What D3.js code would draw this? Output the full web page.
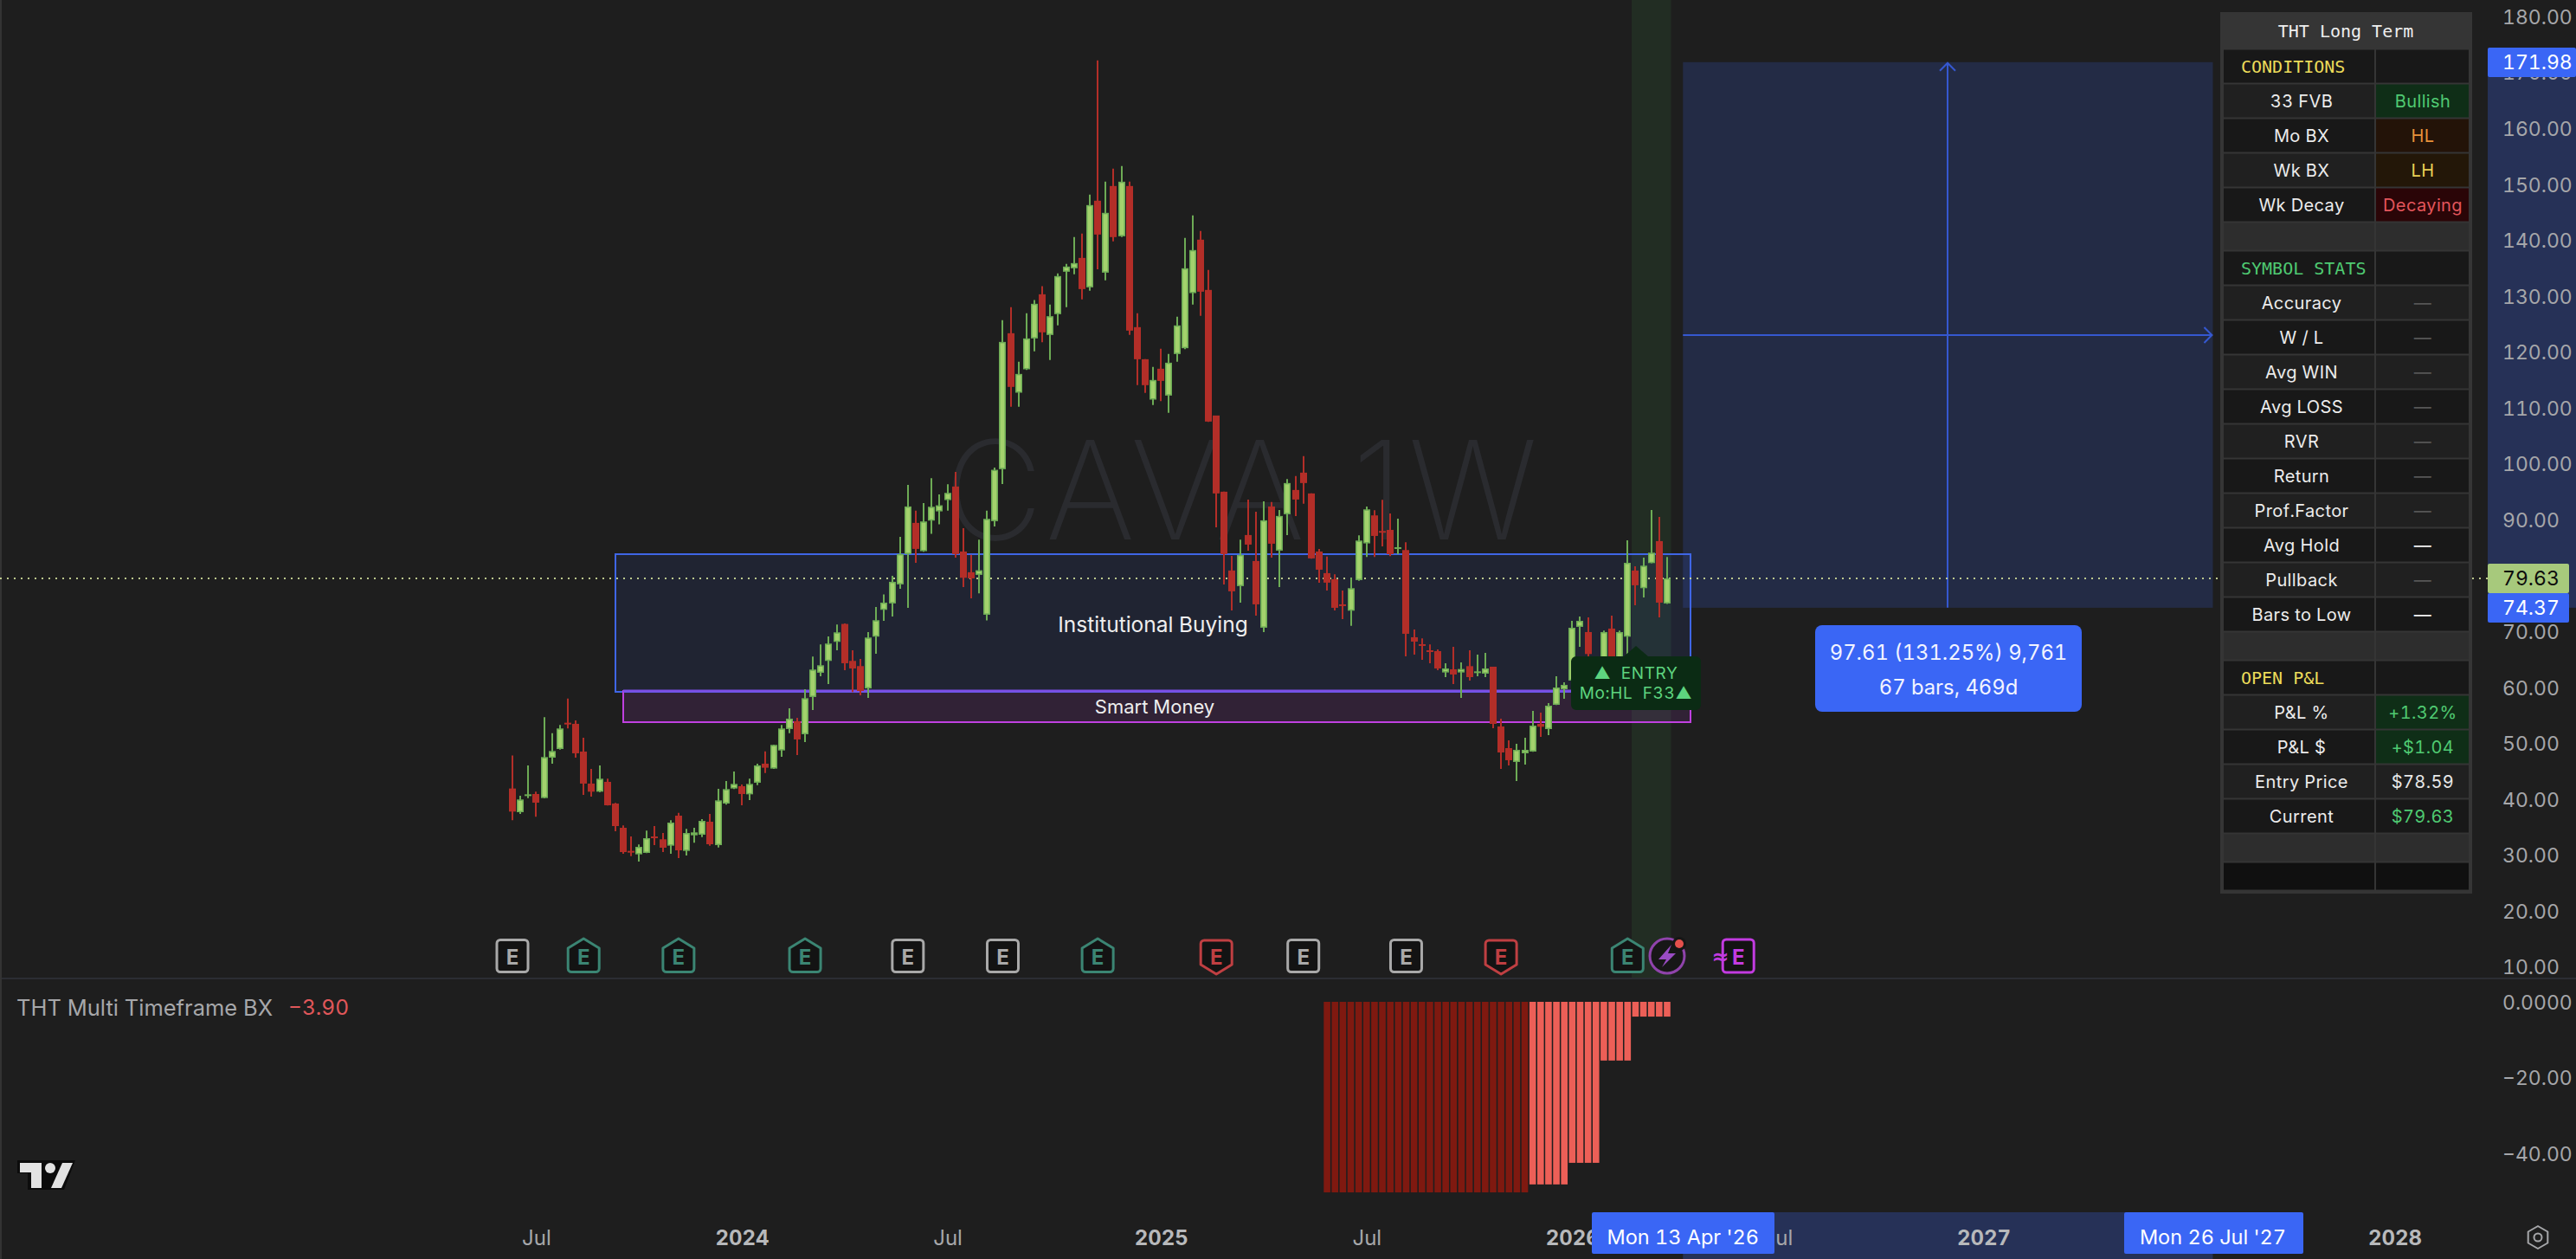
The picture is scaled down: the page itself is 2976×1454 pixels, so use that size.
<!DOCTYPE html>
<html><head><meta charset="utf-8">
<script src="https://cdn.jsdelivr.net/npm/d3@7/dist/d3.min.js"></script>
<style>html,body{margin:0;padding:0;background:#1e1e1e;overflow:hidden}svg{display:block}text{font-family:Inter,"Noto Sans",sans-serif;font-variant-numeric:tabular-nums;white-space:pre}.mono{font-family:"DejaVu Sans Mono",monospace}</style>
</head><body><svg id="c" width="2976" height="1454"></svg>
<script>
const firstBar = Date.UTC(2023,5,12);
const opens = [42.03,37.79,40.68,41.05,40.32,47.55,49.10,53.80,53.60,48.64,42.91,41.46,43.22,39.34,35.00,30.87,30.25,30.51,33.45,32.94,31.80,37.17,30.87,33.66,33.76,36.09,31.90,39.34,42.03,42.44,40.99,43.06,46.47,45.59,48.84,52.67,54.06,51.74,58.40,62.74,64.86,68.27,71.47,64.86,63.93,59.95,69.20,74.00,75.14,78.55,83.97,89.55,
84.49,89.96,91.61,93.63,96.06,84.43,80.72,80.25,73.12,89.86,99.16,123.48,112.84,117.03,122.55,130.45,123.17,126.89,134.48,135.10,136.96,131.69,147.19,134.32,149.82,140.83,149.82,124.57,118.83,111.60,117.13,112.33,119.76,120.80,130.66,140.22,131.23,108.76,95.13,81.03,78.24,87.38,82.73,70.80,92.49,84.59,91.10,95.44,98.54,94.82,84.43,80.56,79.48,74.98,
73.84,79.32,85.88,90.89,88.10,88.30,84.89,84.69,69.09,67.85,66.76,66.61,62.79,63.36,62.79,63.92,62.79,62.58,63.82,53.13,49.26,46.78,48.33,48.64,53.59,52.66,57.00,59.79,61.34,70.95,70.02,62.27,63.82,70.64,63.82,69.19,81.02,77.87,82.36,86.29,75.13];
const highs = [47.92,40.74,46.16,41.46,54.78,51.94,53.39,58.14,54.22,51.12,45.54,46.16,43.78,39.44,35.42,33.45,32.01,34.49,35.31,34.07,36.35,37.69,34.80,35.00,36.55,37.48,41.98,43.37,45.07,42.75,43.78,46.47,48.69,49.88,53.39,56.39,54.68,59.79,65.63,67.80,69.25,71.36,71.57,66.77,65.22,70.02,74.50,76.74,80.09,87.07,96.36,91.72,
93.11,97.55,94.66,96.47,98.69,88.62,83.82,86.55,91.72,99.46,125.81,128.13,118.37,127.05,129.42,131.90,128.60,134.17,135.88,140.68,141.30,148.27,172.29,150.59,152.92,153.38,150.59,127.05,118.83,117.44,120.69,119.76,126.43,140.53,144.56,141.77,134.79,108.76,95.13,83.66,86.55,93.73,91.56,93.42,93.27,91.87,97.40,97.92,101.48,94.82,84.90,83.51,80.35,77.46,
79.73,87.32,92.49,91.81,93.67,91.25,90.32,86.08,70.48,68.88,67.80,66.92,64.44,67.38,64.60,66.76,65.99,66.30,63.82,54.52,50.65,50.03,51.11,55.92,55.61,57.31,62.12,61.03,72.03,72.81,72.65,65.11,70.28,72.96,70.28,86.44,81.79,83.34,91.87,90.63,83.45];
const lows = [36.35,37.48,40.32,36.97,40.27,46.47,49.00,52.77,47.55,40.89,40.58,41.36,38.98,34.38,30.35,29.94,28.96,30.46,31.90,30.66,30.35,29.58,30.04,32.32,33.35,31.80,31.49,39.13,41.92,39.03,39.96,42.65,44.82,45.54,47.71,51.94,48.02,50.34,56.08,62.12,60.72,66.77,63.20,59.28,58.71,58.25,66.15,72.04,72.81,77.77,74.36,82.42,
84.38,87.59,89.29,91.72,83.35,78.08,76.07,76.95,72.09,88.93,96.52,110.31,110.31,116.92,120.23,121.88,118.68,124.88,128.13,134.02,129.53,131.07,134.94,132.93,139.90,140.68,123.17,114.19,112.79,110.62,111.34,109.23,118.37,120.64,128.60,126.58,107.63,88.77,78.55,73.90,75.29,84.59,72.97,70.02,83.35,78.08,87.38,90.79,92.96,83.15,78.86,77.46,73.90,72.35,
71.15,79.21,83.45,83.45,85.36,83.60,83.96,65.68,65.99,65.06,64.44,63.20,61.96,60.72,58.24,61.34,62.12,61.96,52.82,45.54,46.16,43.37,46.31,48.59,51.27,51.58,56.95,58.09,61.24,67.38,65.37,61.24,62.79,63.30,62.79,65.89,74.82,76.22,82.31,72.65,75.03];
const closes = [37.90,40.07,40.99,39.50,47.66,48.74,52.77,53.49,48.33,42.91,41.46,43.78,39.03,35.31,30.66,30.66,31.59,33.14,33.25,31.44,35.93,30.97,34.07,34.18,36.24,32.06,39.91,41.92,42.85,41.05,42.85,46.16,45.75,49.83,52.77,54.53,50.81,58.19,63.31,64.08,67.96,69.97,64.44,63.51,59.48,69.04,72.14,75.29,79.01,83.97,92.49,84.90,
89.81,92.44,92.70,94.92,83.97,79.73,79.63,81.08,90.27,99.05,121.93,113.88,116.20,122.55,128.75,123.64,126.53,133.71,135.41,136.03,131.38,146.41,141.14,145.02,140.68,150.59,123.95,118.83,114.19,115.12,114.96,118.21,124.88,135.10,138.36,130.92,107.68,94.82,83.97,77.31,83.82,85.67,74.98,90.01,85.83,90.79,96.68,93.73,96.68,83.20,81.18,78.86,74.36,74.67,
77.87,86.39,91.97,87.22,87.89,83.96,85.20,69.71,68.31,67.64,66.56,63.51,63.51,62.43,63.41,61.96,62.99,63.51,53.59,48.48,47.09,48.95,48.95,53.28,53.08,56.85,60.10,60.57,70.79,72.03,66.09,64.34,70.02,64.08,70.02,82.41,78.39,81.90,84.22,75.29,79.63];
const priceTicks = [180,170,160,150,140,130,120,110,100,90,80,70,60,50,40,30,20,10];
const bxStart = 103;
const bxValues = [-50.3,-50.3,-50.3,-50.3,-50.3,-50.3,-50.3,-50.3,-50.3,-50.3,-50.3,-50.3,-50.3,-50.3,-50.3,-50.3,-50.3,-50.3,-50.3,-50.3,-50.3,-50.3,-50.3,-50.3,-50.3,-50.3,-48.2,-48.2,-48.2,-48.2,-48.2,-42.5,-42.5,-42.5,-42.5,-15.5,-15.5,-15.5,-15.5,-3.9,-3.9,-3.9,-3.9,-3.9];
const bxTicks = [0,-20,-40];
const timeTickBars = [3,29,55,82,108,134,160,186,212,238];
const timeTickLabels = ["Jul","2024","Jul","2025","Jul","2026","Jul","2027","Jul","2028"];
const earnBars = [0,9,21,37,50,62,74,89,100,113,125,141,155];
const earnKinds = ["gray","up","up","up","gray","gray","up","down","gray","gray","down","up","wave"];
const lastPrice = 79.63, targetPrice = 171.98, stopPrice = 74.37;
const zoneInst = [13,149,83.97,59.33], zoneSmart = [14,149,59.49,53.91];
const projectBars = [148,215];
const bandBars = [142,146];
const rowLabels = ["CONDITIONS","33 FVB","Mo BX","Wk BX","Wk Decay","","SYMBOL STATS","Accuracy","W / L","Avg WIN","Avg LOSS","RVR","Return","Prof.Factor","Avg Hold","Pullback","Bars to Low","","OPEN P&L","P&L %","P&L $","Entry Price","Current","",""];
const rowValues = ["","Bullish","HL","LH","Decaying","","","—","—","—","—","—","—","—","—","—","—","","","+1.32%","+$1.04","$78.59","$79.63","",""];
const rowKinds = ["sec","bull","hl","lh","dec","gap","sec2","mut","mut","mut","mut","mut","mut","mut","wht","mut","wht","gap","sec","pos","pos","plain","cur","gap","end"];

const bars = opens.map((o,i)=>({i,o,h:highs[i],l:lows[i],c:closes[i]}));
const WEEK = 7*864e5;
const barDate = i => new Date(firstBar + i*WEEK);
const x = d3.scaleUtc().domain([barDate(0),barDate(146)]).range([592,1926]);
const xb = i => x(barDate(i));
const y = d3.scaleLinear().domain([180,10]).range([20,1117.4]);
const yb = d3.scaleLinear().domain([0,-40]).range([1157,1332]);
const svg = d3.select("#c");
const MID = "#a6a7aa";
const R = Math.round;
svg.append("rect").attr("width",2976).attr("height",1454).attr("fill","#1e1e1e");
svg.append("rect").attr("width",2).attr("height",1454).attr("fill","#333");

// watermark
svg.append("text").attr("x",1436).attr("y",623).attr("text-anchor","middle").attr("font-size",158).attr("font-weight",250).attr("letter-spacing",5).style("font-variant-numeric","normal").attr("fill","#2a2b2f").text("CAVA 1W");

// band
svg.append("rect").attr("x",xb(bandBars[0])-4.5).attr("y",0).attr("width",xb(bandBars[1])-xb(bandBars[0])+9).attr("height",1129).attr("fill","#4caf50").attr("opacity",.11);

// price-axis highlight + project
const pL=xb(projectBars[0]),pR=xb(projectBars[1]),pT=y(targetPrice),pB=y(stopPrice),blue="#3a66f5";
svg.append("rect").attr("x",2874).attr("y",pT).attr("width",102).attr("height",pB-pT).attr("fill","#263157");
svg.append("rect").attr("x",pL).attr("y",1400).attr("width",pR-pL).attr("height",54).attr("fill","#263157");
svg.append("rect").attr("x",pL).attr("y",pT).attr("width",pR-pL).attr("height",pB-pT).attr("fill","#3c64f0").attr("opacity",.19);

// zones
function zone(z,stroke,fill,op){
  svg.append("rect").attr("x",R(xb(z[0]))).attr("y",R(y(z[2]))).attr("width",R(xb(z[1]))-R(xb(z[0]))).attr("height",R(y(z[3]))-R(y(z[2]))).attr("fill",fill).attr("fill-opacity",op).attr("stroke",stroke).attr("stroke-width",2);
}
zone(zoneInst,"#3f66e6","#3c64f0",.1);
zone(zoneSmart,"#c040e0","#b43cd8",.13);
svg.append("line").attr("x1",R(xb(zoneSmart[0]))).attr("x2",R(xb(zoneInst[1]))).attr("y1",R(y(zoneSmart[2]))).attr("y2",R(y(zoneSmart[2]))).attr("stroke","#7d4fe6").attr("stroke-width",3);

// project arrows
const cx=R((pL+pR)/2),cy=R((pT+pB)/2),arrow="#3558d0";
svg.append("path").attr("fill","none").attr("stroke",arrow).attr("stroke-width",2).attr("d",`M${cx},${pB}V${pT+1}M${cx-9},${pT+10}L${cx},${pT+1}L${cx+9},${pT+10}`);
svg.append("path").attr("fill","none").attr("stroke",arrow).attr("stroke-width",2).attr("d",`M${pL},${cy}H${pR-1}M${pR-10},${cy-9}L${pR-1},${cy}L${pR-10},${cy+9}`);

// last-price line
svg.append("line").attr("x1",0).attr("x2",2874).attr("y1",R(y(lastPrice))).attr("y2",R(y(lastPrice))).attr("stroke","#cfdc98").attr("stroke-width",2).attr("stroke-dasharray","2 6").attr("opacity",.9);

// candles
const gc=svg.append("g").selectAll("g").data(bars).join("g").attr("transform",d=>`translate(${R(xb(d.i))},0)`);
const up=d=>d.c>=d.o;
gc.append("line").attr("y1",d=>y(d.h)).attr("y2",d=>y(d.l)).attr("stroke",d=>up(d)?"#6dab55":"#b32e28").attr("stroke-width",2);
gc.append("rect").attr("x",-3.25).attr("width",6.5)
  .attr("y",d=>y(Math.max(d.o,d.c))+.75).attr("height",d=>Math.max(.5,Math.abs(y(d.o)-y(d.c))-1.5))
  .attr("fill",d=>up(d)?"#a3d26d":"#b32e28").attr("stroke",d=>up(d)?"#6dab55":"#b32e28").attr("stroke-width",1.5);

// zone text
svg.append("text").attr("x",1332).attr("y",721).attr("text-anchor","middle").attr("dominant-baseline","central").attr("font-size",24.5).attr("fill","#eeeeee").text("Institutional Buying");
svg.append("text").attr("x",1334).attr("y",816).attr("text-anchor","middle").attr("dominant-baseline","central").attr("font-size",22).attr("fill","#eeeeee").text("Smart Money");

// entry tooltip
const tipX=1890;
svg.append("path").attr("fill","#0b2b14").attr("d",`M1821,758H${tipX-14}L${tipX},746L${tipX+14},758H1959a6,6 0 0 1 6,6V814a6,6 0 0 1 -6,6H1821a6,6 0 0 1 -6,-6V764a6,6 0 0 1 6,-6Z`);
svg.append("text").attr("x",tipX).attr("y",777).attr("text-anchor","middle").attr("dominant-baseline","central").attr("font-size",19).attr("letter-spacing",.6).attr("fill","#5ed47f").text("▲  ENTRY");
svg.append("text").attr("x",tipX).attr("y",800).attr("text-anchor","middle").attr("dominant-baseline","central").attr("font-size",19).attr("letter-spacing",.6).attr("fill","#5ed47f").text("Mo:HL  F33▲");

// measure label
svg.append("rect").attr("x",2097).attr("y",722).attr("width",308).attr("height",100).attr("rx",8).attr("fill",blue);
svg.append("text").attr("x",2251).attr("y",753).attr("text-anchor","middle").attr("dominant-baseline","central").attr("font-size",23.8).attr("fill","#f2f4ff").text("97.61 (131.25%) 9,761");
svg.append("text").attr("x",2251).attr("y",793).attr("text-anchor","middle").attr("dominant-baseline","central").attr("font-size",23.8).attr("fill","#f2f4ff").text("67 bars, 469d");

// pane separator
svg.append("rect").attr("x",2).attr("y",1129).attr("width",2974).attr("height",2).attr("fill","#2b2d33");

// earnings badges
const badges=svg.append("g").selectAll("g").data(earnBars.map((b,i)=>({b,k:earnKinds[i]}))).join("g").attr("transform",d=>`translate(${xb(d.b)},1104)`);
const bCol={gray:"#a9a9a9",up:"#3b8573",down:"#bf3f42",wave:"#c23be0"};
const bPath={
 gray:"M-14,-18.5H14a4,4 0 0 1 4,4V14.5a4,4 0 0 1 -4,4H-14a4,4 0 0 1 -4,-4V-14.5a4,4 0 0 1 4,-4Z",
 up:"M0,-20L18,-9V14.5a4,4 0 0 1 -4,4H-14a4,4 0 0 1 -4,-4V-9Z",
 down:"M-14,-18H14a4,4 0 0 1 4,4V10L0,21L-18,10V-14a4,4 0 0 1 4,-4Z",
 wave:"M-14,-19H14a4,4 0 0 1 4,4V15a4,4 0 0 1 -4,4H-14a4,4 0 0 1 -4,-4V-15a4,4 0 0 1 4,-4Z"};
badges.append("path").attr("d",d=>bPath[d.k]).attr("fill","#131313").attr("stroke",d=>bCol[d.k]).attr("stroke-width",3).attr("stroke-linejoin","round");
badges.append("text").attr("text-anchor","middle").attr("dominant-baseline","central").attr("y",1).attr("font-size",24).attr("font-weight",700).attr("fill",d=>bCol[d.k]).text("E");
badges.filter(d=>d.k==="wave").append("text").attr("x",-21).attr("y",1).attr("text-anchor","middle").attr("dominant-baseline","central").attr("font-size",24).attr("font-weight",700).style("font-family","'DejaVu Sans'").attr("fill",bCol.wave).text("≈");
// alert (bolt)
const bolt=svg.append("g").attr("transform",`translate(${xb(146)},1104)`);
bolt.append("circle").attr("r",20).attr("fill","#171717").attr("stroke","#8f43ab").attr("stroke-width",3);
bolt.append("path").attr("d","M5,-13L-10,4H-1L-6,13L10,-3H1Z").attr("fill","#9a4cc4");
bolt.append("circle").attr("cx",14).attr("cy",-14).attr("r",8).attr("fill","#161616");
bolt.append("circle").attr("cx",14).attr("cy",-14).attr("r",5).attr("fill","#e4504c");

// oscillator bars
svg.append("g").selectAll("rect").data(bxValues).join("rect")
  .attr("x",(d,i)=>xb(bxStart+i)-3.8).attr("width",7.6).attr("y",yb(0)).attr("height",d=>yb(d)-yb(0))
  .attr("fill",d=>d<-50?"#7f1910":"#ec5f57");

// legend
svg.append("text").attr("x",19).attr("y",1163).attr("dominant-baseline","central").attr("font-size",25.5).attr("fill","#a6a7aa").text("THT Multi Timeframe BX");
svg.append("text").attr("x",333).attr("y",1163).attr("dominant-baseline","central").attr("font-size",24.5).attr("fill","#e0575a").text("−3.90");

// TV logo
const logo=svg.append("g");
logo.append("path").attr("d","M20,1340H87L74,1374H32V1355H20Z").attr("fill","#0c0c0c");
logo.append("path").attr("d","M23,1343H48V1372H36V1354H23Z").attr("fill","#e2e2e2");
logo.append("circle").attr("cx",58).attr("cy",1349).attr("r",6).attr("fill","#e2e2e2");
logo.append("path").attr("d","M72,1343H84L71,1372H59Z").attr("fill","#e2e2e2");

// price axis
const ga=svg.append("g").attr("transform","translate(2891,0)").call(d3.axisRight(y).tickValues(priceTicks).tickSize(0).tickPadding(0).tickFormat(d3.format(".2f")));
ga.select(".domain").remove();
ga.selectAll("text").attr("font-size",23).attr("fill",MID).style("font-family","Inter");
// oscillator axis
const gb=svg.append("g").attr("transform","translate(2891,1)").call(d3.axisRight(yb).tickValues(bxTicks).tickSize(0).tickPadding(0).tickFormat(d=>d===0?"0.0000":d3.format(".2f")(d)));
gb.select(".domain").remove();
gb.selectAll("text").attr("font-size",23).attr("fill",MID).style("font-family","Inter");
// time axis
const gt=svg.append("g").attr("transform","translate(0,1421)").call(d3.axisBottom(x).tickValues(timeTickBars.map(barDate)).tickSize(0).tickPadding(0).tickFormat((d,i)=>timeTickLabels[i]));
gt.select(".domain").remove();
gt.selectAll("text").attr("font-size",24).style("font-family","Inter").attr("fill",(d,i)=>/\d/.test(timeTickLabels[i])?"#b8b9bb":MID).attr("font-weight",(d,i)=>/\d/.test(timeTickLabels[i])?700:400);

// price tags
function tag(x0,y0,w,h,fill,tc,txt,tx,anchor,ty,fs){
  svg.append("rect").attr("x",x0).attr("y",y0).attr("width",w).attr("height",h).attr("fill",fill).attr("rx",2);
  svg.append("text").attr("x",tx).attr("y",ty||y0+h/2).attr("text-anchor",anchor).attr("dominant-baseline","central").attr("font-size",fs||23).attr("fill",tc).text(txt);
}
tag(2874,55,102,34,blue,"#fff",d3.format(".2f")(targetPrice),2891,"start");
tag(2874,651,94,34,"#a7c97c","#0c0c0c",d3.format(".2f")(lastPrice),2891,"start");
tag(2874,685,94,34,blue,"#fff",d3.format(".2f")(stopPrice),2891,"start");
tag(1839,1400,211,48,blue,"#fff","Mon 13 Apr '26",xb(148),"middle",1428,23.5);
tag(2454,1400,207,48,blue,"#fff","Mon 26 Jul '27",xb(215),"middle",1428,23.5);

// gear
const gear=svg.append("g").attr("transform","translate(2932,1429)").attr("fill","none").attr("stroke","#a6a7aa").attr("stroke-width",2);
gear.append("path").attr("d",d3.range(6).map(k=>{const a=Math.PI/3*k+Math.PI/6;return (k?"L":"M")+(13*Math.cos(a)).toFixed(1)+","+(13*Math.sin(a)).toFixed(1)}).join("")+"Z").attr("stroke-linejoin","round");
gear.append("circle").attr("r",4.5);

// table
const T=svg.append("g");
T.append("rect").attr("x",2565).attr("y",14).attr("width",291).attr("height",1018).attr("fill","#353535");
T.append("text").attr("class","mono").attr("x",2710).attr("y",36).attr("text-anchor","middle").attr("dominant-baseline","central").attr("font-size",20).attr("fill","#eeeeee").text("THT Long Term");
const valBg={bull:"#0f2e17",hl:"#231308",lh:"#231708",dec:"#2a0507",pos:"#0f2e17"};
const valFg={bull:"#4fca72",hl:"#e8913a",lh:"#ead055",dec:"#e2555b",pos:"#4fca72",mut:"#565656",wht:"#f0f0f0",plain:"#e8e8e8",cur:"#4fca72"};
const secFg={sec:"#ecdc5a",sec2:"#4fca72"};
let ry=57.5;
rowLabels.forEach((lab,i)=>{
  const k=rowKinds[i],h=(k==="gap"||k==="end")?31:38;
  const base=k==="gap"?"#2d2d2d":k==="end"?"#101010":(i%2?"#202020":"#181818");
  T.append("rect").attr("x",2569).attr("y",ry).attr("width",174).attr("height",h).attr("fill",base);
  T.append("rect").attr("x",2745).attr("y",ry).attr("width",107).attr("height",h).attr("fill",valBg[k]||base);
  if(k==="sec"||k==="sec2"){
    T.append("text").attr("class","mono").attr("x",2589).attr("y",ry+h/2).attr("dominant-baseline","central").attr("font-size",20).attr("fill",secFg[k]).text(lab);
  }else if(lab){
    T.append("text").attr("x",2659).attr("y",ry+h/2).attr("text-anchor","middle").attr("dominant-baseline","central").attr("font-size",20).attr("letter-spacing",.4).attr("fill","#ececec").text(lab);
    T.append("text").attr("x",2799).attr("y",ry+h/2).attr("text-anchor","middle").attr("dominant-baseline","central").attr("font-size",20).attr("letter-spacing",.4).attr("fill",valFg[k]).text(rowValues[i]);
  }
  ry+=h+2;
});
</script></body></html>
